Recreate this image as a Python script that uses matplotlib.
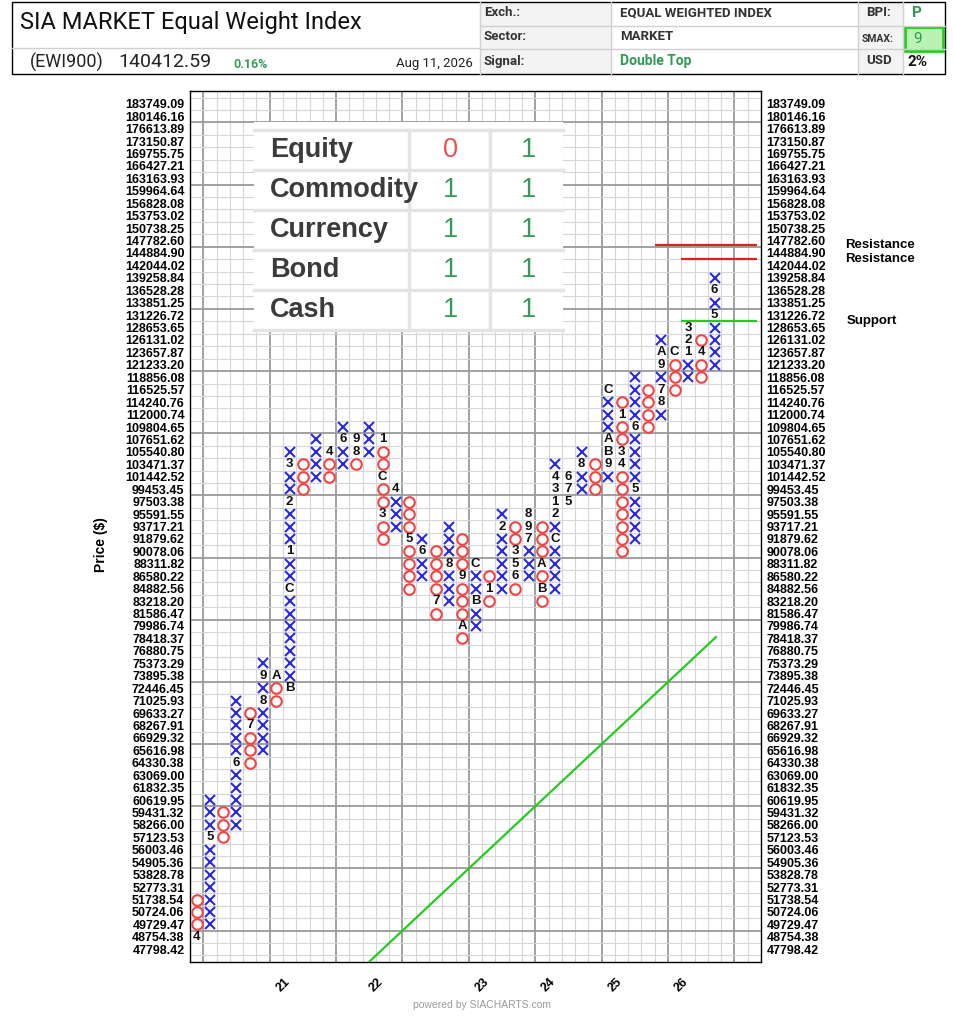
import matplotlib
matplotlib.use("Agg")
import matplotlib.pyplot as plt
from matplotlib.patches import Rectangle

# ---------------- data ----------------
price_levels = [  # bottom (box 0) to top (box 68)
    "47798.42", "48754.38", "49729.47", "50724.06", "51738.54", "52773.31", "53828.78",
    "54905.36", "56003.46", "57123.53", "58266.00", "59431.32", "60619.95", "61832.35",
    "63069.00", "64330.38", "65616.98", "66929.32", "68267.91", "69633.27", "71025.93",
    "72446.45", "73895.38", "75373.29", "76880.75", "78418.37", "79986.74", "81586.47",
    "83218.20", "84882.56", "86580.22", "88311.82", "90078.06", "91879.62", "93717.21",
    "95591.55", "97503.38", "99453.45", "101442.52", "103471.37", "105540.80", "107651.62",
    "109804.65", "112000.74", "114240.76", "116525.57", "118856.08", "121233.20", "123657.87",
    "126131.02", "128653.65", "131226.72", "133851.25", "136528.28", "139258.84", "142044.02",
    "144884.90", "147782.60", "150738.25", "153753.02", "156828.08", "159964.64", "163163.93",
    "166427.21", "169755.75", "173150.87", "176613.89", "180146.16", "183749.09",
]

col_types = ["O", "X", "O", "X", "O", "X", "O", "X", "O", "X",
             "O", "X", "O", "X", "O", "X", "O", "X", "O", "X",
             "O", "X", "O", "X", "O", "X", "O", "X", "O", "X",
             "O", "X", "O", "X", "O", "X", "O", "X", "O", "X"]
col_low = [1, 2, 9, 10, 15, 16, 20, 21, 37, 38,
           38, 39, 39, 40, 33, 34, 29, 30, 27, 28,
           25, 26, 28, 29, 29, 30, 28, 29, 36, 37,
           37, 38, 32, 33, 42, 43, 45, 46, 46, 47]
col_high = [4, 12, 11, 20, 19, 23, 22, 40, 39, 41,
            40, 42, 41, 42, 41, 37, 36, 33, 32, 34,
            33, 31, 30, 35, 34, 35, 34, 39, 38, 40,
            39, 45, 44, 46, 45, 49, 48, 50, 49, 54]

month_marks = [
    (0, 1, "4"), (1, 9, "5"), (3, 15, "6"), (4, 18, "7"), (5, 20, "8"), (5, 22, "9"),
    (6, 22, "A"), (7, 21, "B"), (7, 29, "C"), (7, 32, "1"), (7, 36, "2"), (7, 39, "3"),
    (10, 40, "4"), (11, 41, "6"), (12, 40, "8"), (12, 41, "9"),
    (14, 41, "1"), (14, 38, "C"), (14, 35, "3"), (15, 37, "4"), (16, 33, "5"),
    (17, 32, "6"), (18, 28, "7"), (19, 31, "8"), (20, 30, "9"), (20, 26, "A"),
    (21, 31, "C"), (21, 28, "B"), (22, 29, "1"), (23, 34, "2"),
    (24, 32, "3"), (24, 31, "5"), (24, 30, "6"),
    (25, 35, "8"), (25, 34, "9"), (25, 33, "7"), (26, 31, "A"), (26, 29, "B"),
    (27, 33, "C"), (27, 35, "2"), (27, 36, "1"), (27, 37, "3"), (27, 38, "4"),
    (28, 38, "6"), (28, 37, "7"), (28, 36, "5"), (29, 39, "8"),
    (31, 39, "9"), (31, 40, "B"), (31, 41, "A"), (31, 45, "C"),
    (32, 43, "1"), (32, 40, "3"), (32, 39, "4"), (33, 42, "6"), (33, 37, "5"),
    (35, 48, "A"), (35, 47, "9"), (35, 45, "7"), (35, 44, "8"), (36, 48, "C"),
    (37, 50, "3"), (37, 49, "2"), (37, 48, "1"), (38, 48, "4"),
    (39, 51, "5"), (39, 53, "6"),
]

year_cols = [7, 14, 22, 27, 32, 37]
year_labels = ["21", "22", "23", "24", "25", "26"]

resistance_lines = [(35.0, 42.7, 56.6), (37.0, 42.7, 55.5)]
support_lines = [(37.0, 42.7, 50.5)]
trend_start = (13.5, -1.0)
trend_end = (39.6, 25.1)

table_rows = ["Equity", "Commodity", "Currency", "Bond", "Cash"]
table_col1 = [0, 1, 1, 1, 1]
table_col2 = [1, 1, 1, 1, 1]

# ---------------- figure ----------------
W, H = 954, 1025
fig = plt.figure(figsize=(W / 100, H / 100), dpi=100)
fig.patch.set_facecolor("white")

L, R, T, B = 190, 761, 91.3, 961.7
ax = fig.add_axes([L / W, 1 - B / H, (R - L) / W, (B - T) / H])
ncols = 43
ax.set_xlim(0, ncols)
ax.set_ylim(-1, 69)

# grid
for xv in range(1, ncols):
    heavy = (xv - 1) % 5 == 0
    ax.axvline(xv, color="#9a9a9a" if heavy else "#d6d6d6", lw=1.3 if heavy else 0.8, zorder=1)
for k in range(-1, 69):
    yv = k + 0.5
    heavy = (k - 1) % 5 == 0
    ax.axhline(yv, color="#9a9a9a" if heavy else "#d6d6d6", lw=1.3 if heavy else 0.8, zorder=1)

for s in ax.spines.values():
    s.set_color("black")
    s.set_linewidth(1.0)

marks = {(c, r): ch for c, r, ch in month_marks}
xs_x, ys_x, xs_o, ys_o = [], [], [], []
for c, (t, lo, hi) in enumerate(zip(col_types, col_low, col_high)):
    for r in range(lo, hi + 1):
        if (c, r) in marks:
            ax.text(c + 0.5, r, marks[(c, r)], ha="center", va="center", fontsize=9.5,
                    fontweight="bold", family="Liberation Sans", color="#111111", zorder=4)
        elif t == "X":
            xs_x.append(c + 0.5); ys_x.append(r)
        else:
            xs_o.append(c + 0.5); ys_o.append(r)
ax.plot(xs_x, ys_x, ls="none", marker="x", ms=7.5, mew=1.5, color="#2a2ae6", zorder=3)
ax.plot(xs_o, ys_o, ls="none", marker="o", ms=7.6, mew=1.5, mfc="none", mec="#f04545", zorder=3)

for x0, x1, yv in resistance_lines:
    ax.plot([x0, x1], [yv, yv], color="#dd2020", lw=1.6, zorder=5, clip_on=False, solid_capstyle="butt")
for x0, x1, yv in support_lines:
    ax.plot([x0, x1], [yv, yv], color="#22cc22", lw=1.6, zorder=5, clip_on=False, solid_capstyle="butt")
ax.plot([trend_start[0], trend_end[0]], [trend_start[1], trend_end[1]], color="#22cc22", lw=1.6, zorder=5)

ax.set_yticks(range(len(price_levels)))
ax.set_yticklabels(price_levels)
ax.tick_params(axis="y", length=0, labelleft=True, labelright=True, pad=4)
for lab in ax.get_yticklabels():
    lab.set_fontfamily("Liberation Sans"); lab.set_fontweight("bold"); lab.set_fontsize(9)
ax.set_xticks(year_cols)
ax.set_xticklabels(year_labels, rotation=45, ha="center", va="top",
                   fontsize=9, fontweight="bold", family="Liberation Sans")
ax.tick_params(axis="x", length=0, pad=10)
ax.set_ylabel("Price ($)", fontsize=10, fontweight="bold", family="Liberation Sans", labelpad=10)
ax.yaxis.set_label_coords(-(L - 108) / (R - L), (B - 545) / (B - T))

# ---------------- overlay (pixel coords) ----------------
ov = fig.add_axes([0, 0, 1, 1], facecolor="none")
ov.set_xlim(0, W); ov.set_ylim(H, 0); ov.axis("off")

# header frame
gray_cells = [(480, 2, 131, 24), (480, 26, 131, 23), (480, 49, 131, 25),
              (858, 2, 45, 24), (858, 26, 45, 23), (858, 49, 45, 25)]
for x, y, w, h in gray_cells:
    ov.add_patch(Rectangle((x, y), w, h, facecolor="#f3f3f3", edgecolor="none"))
for yv in (26, 49):
    ov.plot([480, 945], [yv, yv], color="#d0d0d0", lw=1)
ov.plot([12, 480], [48, 48], color="#d0d0d0", lw=1)
for xv in (480, 611, 858, 903):
    ov.plot([xv, xv], [2, 74], color="#d0d0d0", lw=1)
ov.add_patch(Rectangle((12, 2), 933, 72, facecolor="none", edgecolor="black", lw=1))
ov.add_patch(Rectangle((905, 27), 38, 24, facecolor="#b9f2b2", edgecolor="#22cc22", lw=2))

ov.text(20, 23, "SIA MARKET Equal Weight Index", fontsize=17, family="Roboto", va="center", color="#111111")
ov.text(30, 62, "(EWI900)", fontsize=13, family="Roboto", va="center", color="#222222")
ov.text(118, 62, "140412.59", fontsize=14, family="Roboto", va="center", color="#222222")
ov.text(233, 64, "0.16%", fontsize=9, family="Roboto", fontweight="bold", va="center", color="#3a9a5a")
ov.text(473, 63, "Aug 11, 2026", fontsize=9.5, family="Roboto", va="center", ha="right", color="#222222")
hdr = dict(fontsize=9.5, family="Roboto", fontweight="bold", va="center", color="#333333")
ov.text(484, 13, "Exch.:", **hdr)
ov.text(484, 37, "Sector:", **hdr)
ov.text(484, 61, "Signal:", **hdr)
ov.text(620, 13, "EQUAL WEIGHTED INDEX", **hdr)
ov.text(620, 37, "MARKET", **hdr)
ov.text(620, 61, "Double Top", fontsize=10, family="Roboto", fontweight="bold", va="center", color="#2e9a55")
ov.text(866, 13, "BPI:", **hdr)
ov.text(862, 39, "SMAX:", fontsize=7.5, family="Roboto", fontweight="bold", va="center", color="#333333")
ov.text(866, 61, "USD", **hdr)
ov.text(917, 13, "P", fontsize=11, family="Roboto", fontweight="bold", va="center", ha="center", color="#2e9a55")
ov.text(918, 39, "9", fontsize=11, family="Roboto", va="center", ha="center", color="#2e9a55")
ov.text(918, 62, "2%", fontsize=11, family="Roboto", fontweight="bold", va="center", ha="center", color="#111111")

# asset table overlay
ov.add_patch(Rectangle((254, 122), 309, 210, facecolor="white", edgecolor="none", zorder=2))
for yv in (130, 170, 210, 250, 290, 330):
    ov.plot([254, 563], [yv, yv], color="#e4e4e4", lw=2.5, zorder=3)
for xv in (409, 490):
    ov.plot([xv, xv], [130, 330], color="#e4e4e4", lw=2.5, zorder=3)
for i, name in enumerate(table_rows):
    yc = 150 + 40 * i
    ov.text(270, yc, name, fontsize=19.5, fontweight="bold", family="Liberation Sans",
            va="center", color="#3b3b3b", zorder=4)
    for xc, v in ((451, table_col1[i]), (529, table_col2[i])):
        ov.text(xc, yc, str(v), fontsize=19.5, family="Liberation Sans", va="center", ha="center",
                color="#e0564e" if v == 0 else "#3a9a5a", zorder=4)

ov.text(845, 245, "Resistance", fontsize=9.5, fontweight="bold", family="Liberation Sans", va="center")
ov.text(845, 259, "Resistance", fontsize=9.5, fontweight="bold", family="Liberation Sans", va="center")
ov.text(847, 321, "Support", fontsize=9.5, fontweight="bold", family="Liberation Sans", va="center")
ov.text(482, 1005, "powered by SIACHARTS.com", fontsize=7.5, family="Liberation Sans", ha="center",
        va="center", color="#9a9a9a")

fig.savefig("out.png", dpi=100, facecolor="white")
